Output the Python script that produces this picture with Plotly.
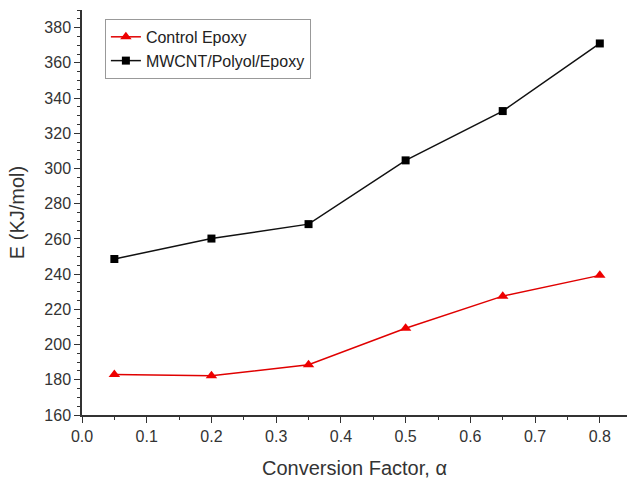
import plotly.graph_objects as go

alpha = [0.05, 0.2, 0.35, 0.5, 0.65, 0.8]
control_epoxy = [183, 182.3, 188.5, 209.3, 227.5, 239.3]
mwcnt_epoxy = [248.6, 260.2, 268.4, 304.6, 332.6, 371.0]

x_ticks = [0.0, 0.1, 0.2, 0.3, 0.4, 0.5, 0.6, 0.7, 0.8]
y_ticks = [160, 180, 200, 220, 240, 260, 280, 300, 320, 340, 360, 380]

FONT = "Liberation Sans, Arial, sans-serif"

fig = go.Figure()
fig.add_trace(go.Scatter(
    x=alpha, y=control_epoxy, mode="lines+markers", name="Control Epoxy",
    line=dict(color="#e00000", width=1.5),
    marker=dict(symbol="triangle-up", size=10, color="#ee0000"),
))
fig.add_trace(go.Scatter(
    x=alpha, y=mwcnt_epoxy, mode="lines+markers", name="MWCNT/Polyol/Epoxy",
    line=dict(color="#111111", width=1.5),
    marker=dict(symbol="square", size=8, color="#000000"),
))

fig.update_layout(
    width=627, height=479,
    margin=dict(l=82, r=0, t=10, b=64),
    plot_bgcolor="white", paper_bgcolor="white",
    font=dict(family=FONT, color="#333333"),
    showlegend=True,
    legend=dict(
        x=0.042, y=0.978, xanchor="left", yanchor="top",
        bordercolor="#999999", borderwidth=1, bgcolor="white",
        font=dict(size=16, color="#222222", family=FONT),
        tracegroupgap=0, itemwidth=30,
    ),
    xaxis=dict(
        range=[0, 0.842], tickvals=x_ticks,
        ticktext=[f"{v:.1f}" for v in x_ticks],
        showgrid=False, zeroline=False,
        showline=True, linecolor="#333333", linewidth=1.5,
        ticks="outside", ticklen=6, tickwidth=1.2, tickcolor="#333333",
        minor=dict(dtick=0.05, tick0=0, ticks="outside", ticklen=3, tickcolor="#333333"),
        tickfont=dict(size=16, color="#333333"),
        title=dict(text="Conversion Factor, α", font=dict(size=20, color="#333333"), standoff=17),
    ),
    yaxis=dict(
        range=[160, 390], tickvals=y_ticks,
        showgrid=False, zeroline=False,
        showline=True, linecolor="#333333", linewidth=1.5,
        ticks="outside", ticklen=6, tickwidth=1.2, tickcolor="#333333",
        minor=dict(dtick=5, tick0=160, ticks="outside", ticklen=3, tickcolor="#333333"),
        tickfont=dict(size=16, color="#333333"),
        title=dict(text="E (KJ/mol)", font=dict(size=20, color="#333333"), standoff=14),
    ),
)

fig.write_html("out.html")
